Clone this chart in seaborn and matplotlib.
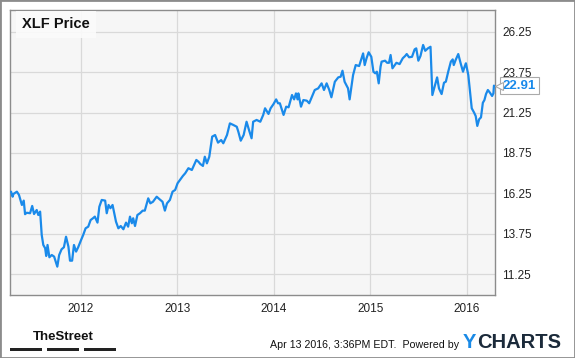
import pandas as pd
import seaborn as sns
import matplotlib
matplotlib.use('Agg')
from matplotlib import pyplot as plt
from matplotlib import transforms
from matplotlib.patches import Rectangle

dates = [
    '2011-04-13', '2011-04-19', '2011-04-22', '2011-05-05', '2011-05-13', '2011-05-24', '2011-05-31',
    '2011-06-05', '2011-06-11', '2011-06-24', '2011-07-02', '2011-07-09', '2011-07-19', '2011-07-25',
    '2011-08-01', '2011-08-07', '2011-08-13', '2011-08-20', '2011-08-24', '2011-08-29', '2011-09-05',
    '2011-09-14', '2011-09-23', '2011-10-05', '2011-10-12', '2011-10-21', '2011-10-30', '2011-11-07',
    '2011-11-16', '2011-11-22', '2011-11-30', '2011-12-07', '2011-12-15', '2011-12-23', '2012-01-02',
    '2012-01-11', '2012-01-20', '2012-01-30', '2012-02-08', '2012-02-17', '2012-02-24', '2012-03-05',
    '2012-03-12', '2012-03-21', '2012-04-03', '2012-04-09', '2012-04-16', '2012-04-23', '2012-05-01',
    '2012-05-14', '2012-05-23', '2012-06-01', '2012-06-11', '2012-06-21', '2012-06-29', '2012-07-06',
    '2012-07-13', '2012-07-18', '2012-07-25', '2012-08-03', '2012-08-13', '2012-08-23', '2012-08-31',
    '2012-09-13', '2012-09-21', '2012-10-01', '2012-10-15', '2012-10-26', '2012-11-06', '2012-11-15',
    '2012-11-23', '2012-12-04', '2012-12-14', '2012-12-24', '2013-01-02', '2013-01-11', '2013-01-22',
    '2013-01-31', '2013-02-12', '2013-02-25', '2013-03-14', '2013-03-22', '2013-03-29', '2013-04-08',
    '2013-04-15', '2013-04-23', '2013-05-02', '2013-05-13', '2013-05-24', '2013-06-04', '2013-06-16',
    '2013-06-24', '2013-07-08', '2013-07-19', '2013-08-01', '2013-08-14', '2013-08-20', '2013-08-29',
    '2013-09-09', '2013-09-20', '2013-09-30', '2013-10-09', '2013-10-15', '2013-10-28', '2013-11-11',
    '2013-11-22', '2013-11-29', '2013-12-12', '2013-12-20', '2013-12-31', '2014-01-10', '2014-01-17',
    '2014-01-24', '2014-02-07', '2014-02-17', '2014-02-26', '2014-03-04', '2014-03-11', '2014-03-19',
    '2014-03-26', '2014-04-01', '2014-04-04', '2014-04-14', '2014-04-23', '2014-05-06', '2014-05-15',
    '2014-06-05', '2014-06-18', '2014-07-01', '2014-07-10', '2014-07-20', '2014-07-30', '2014-08-07',
    '2014-08-20', '2014-09-02', '2014-09-11', '2014-09-18', '2014-09-26', '2014-10-09', '2014-10-15',
    '2014-10-28', '2014-11-07', '2014-11-20', '2014-11-28', '2014-12-05', '2014-12-11', '2014-12-18',
    '2014-12-26', '2015-01-05', '2015-01-13', '2015-01-20', '2015-01-26', '2015-02-02', '2015-02-09',
    '2015-02-13', '2015-02-26', '2015-03-06', '2015-03-13', '2015-03-19', '2015-03-26', '2015-04-10',
    '2015-04-22', '2015-05-04', '2015-05-13', '2015-05-19', '2015-05-28', '2015-06-08', '2015-06-18',
    '2015-06-24', '2015-07-02', '2015-07-10', '2015-07-20', '2015-07-28', '2015-08-07', '2015-08-17',
    '2015-08-24', '2015-09-03', '2015-09-11', '2015-09-18', '2015-09-28', '2015-10-07', '2015-10-14',
    '2015-10-23', '2015-11-02', '2015-11-09', '2015-11-13', '2015-11-20', '2015-11-30', '2015-12-09',
    '2015-12-18', '2015-12-24', '2015-12-29', '2016-01-07', '2016-01-14', '2016-01-20', '2016-01-29',
    '2016-02-04', '2016-02-10', '2016-02-17', '2016-02-24', '2016-03-02', '2016-03-08', '2016-03-14',
    '2016-03-21', '2016-03-29', '2016-04-06', '2016-04-11', '2016-04-13',
]
prices = [
    16.36, 16.05, 16.22, 16.36, 16.16, 15.54, 15.81,
    14.97, 15.06, 15.03, 15.48, 14.98, 15.23, 14.92,
    15.13, 13.69, 13.07, 12.87, 12.39, 13.07, 12.31,
    12.45, 12.35, 11.73, 12.45, 12.80, 12.93, 13.58,
    12.97, 12.10, 12.10, 13.07, 12.66, 12.93, 13.34,
    13.69, 14.10, 14.20, 14.61, 14.72, 14.82, 14.45,
    15.43, 15.85, 15.81, 15.03, 15.54, 15.34, 15.54,
    14.51, 14.10, 14.24, 14.04, 14.45, 14.20, 14.82,
    14.41, 14.72, 14.24, 14.92, 15.03, 15.19, 15.19,
    15.95, 15.64, 15.74, 16.05, 15.89, 15.74, 15.19,
    15.64, 15.85, 16.36, 16.47, 16.88, 17.08, 17.33,
    17.50, 17.81, 17.70, 18.32, 18.21, 18.07, 17.95,
    18.52, 18.11, 18.52, 19.76, 19.86, 19.39, 19.55,
    19.35, 19.86, 20.58, 20.48, 20.37, 20.06, 19.51,
    19.86, 20.68, 20.13, 19.66, 20.68, 20.79, 20.68,
    21.10, 21.51, 21.16, 21.51, 21.77, 22.06, 21.82,
    21.82, 21.10, 21.61, 21.57, 21.92, 22.33, 22.06,
    22.43, 22.06, 22.43, 21.61, 22.02, 21.98, 21.82,
    22.64, 22.74, 23.05, 22.64, 23.05, 22.64, 22.19,
    23.15, 23.42, 23.46, 23.83, 23.15, 22.74, 22.06,
    23.56, 24.18, 24.12, 24.53, 24.90, 24.18, 24.60,
    24.97, 24.69, 23.77, 23.67, 23.77, 23.05, 24.08,
    24.39, 24.45, 24.32, 24.32, 24.80, 23.98, 24.32,
    24.24, 24.60, 24.74, 24.86, 24.66, 24.69, 25.15,
    25.21, 24.45, 24.74, 25.42, 25.06, 25.21, 25.31,
    22.33, 22.95, 23.42, 22.74, 22.39, 23.09, 23.15,
    23.77, 24.39, 24.53, 24.18, 24.49, 24.86, 24.29,
    23.77, 24.08, 24.29, 23.56, 22.43, 21.51, 21.24,
    21.03, 20.42, 20.83, 20.95, 21.85, 22.02, 22.39,
    22.64, 22.47, 22.27, 22.43, 22.91,
]
y_ticks = [11.25, 13.75, 16.25, 18.75, 21.25, 23.75, 26.25]
x_ticks = ['2012-01-01', '2013-01-01', '2014-01-01', '2015-01-01', '2016-01-01']
x_labels = ['2012', '2013', '2014', '2015', '2016']

df = pd.DataFrame({'date': pd.to_datetime(dates), 'price': prices})

sns.set_theme(style='white')
plt.rcParams['font.family'] = ['Liberation Sans', 'DejaVu Sans']

line_blue = '#1a8aea'
grid_grey = '#d9d9d9'
edge_grey = '#8c8c8c'

fig = plt.figure(figsize=(5.75, 3.58), dpi=100)
fig.patch.set_facecolor('white')
ax = fig.add_axes([10 / 575, 1 - 295 / 358, 485 / 575, 285 / 358])
ax.set_facecolor('#f6f6f6')

sns.lineplot(data=df, x='date', y='price', ax=ax, color=line_blue, linewidth=1.6, zorder=3)

ax.set_xlim(pd.Timestamp('2011-04-09'), pd.Timestamp('2016-04-17'))
ax.set_ylim(9.98, 27.58)
ax.set_xticks(pd.to_datetime(x_ticks))
ax.set_xticklabels(x_labels)
ax.set_yticks(y_ticks)
ax.set_yticklabels([f'{v:.2f}' for v in y_ticks])
ax.yaxis.tick_right()
ax.tick_params(axis='both', length=0, labelsize=8.5, colors='#222222')
ax.tick_params(axis='y', pad=5)
ax.tick_params(axis='x', pad=6)
ax.grid(True, color=grid_grey, linewidth=0.9)
ax.set_axisbelow(True)
ax.set_xlabel('')
ax.set_ylabel('')
for s in ax.spines.values():
    s.set_color(edge_grey)
    s.set_linewidth(1)

# title box in the corner
ax.text(0.025, 0.95, 'XLF Price', transform=ax.transAxes, fontsize=10.5, fontweight='bold',
        color='#111111', ha='left', va='center', zorder=5,
        bbox=dict(boxstyle='square,pad=0.45', facecolor='#fbfbfb', edgecolor='none', alpha=0.9))

# last value tag
last = df.iloc[-1]
ax.annotate(f"{last['price']:.2f}", xy=(last['date'], last['price']), xytext=(6.5, 0),
            textcoords='offset points', ha='left', va='center', fontsize=9.5, fontweight='bold',
            color=line_blue, annotation_clip=False, zorder=6,
            bbox=dict(boxstyle='square,pad=0.2', facecolor='white', edgecolor='#aaaaaa', linewidth=0.8))
ax.plot([last['date']], [last['price']], marker='<', markersize=6, markerfacecolor='white',
        markeredgecolor='#aaaaaa', markeredgewidth=0.8, clip_on=False, zorder=7,
        transform=ax.transData + transforms.ScaledTranslation(3.5 / 72, 0, fig.dpi_scale_trans))

# footer
fig.text(63 / 575, 1 - 337 / 358, 'TheStreet', fontsize=9.5, fontweight='bold', ha='center', va='center',
         color='#111111')
for x0 in [10, 47, 84]:
    fig.add_artist(Rectangle((x0 / 575, 1 - 351 / 358), 32 / 575, 3.5 / 358, transform=fig.transFigure,
                             facecolor='#222222', edgecolor='none'))
fig.text(459 / 575, 1 - 345 / 358, 'Apr 13 2016, 3:36PM EDT.  Powered by', fontsize=7.7, ha='right',
         va='center', color='#111111')
fig.text(463 / 575, 1 - 342 / 358, 'Y', fontsize=14.5, fontweight='bold', ha='left', va='center',
         color='#1a8ae6')
fig.text(477 / 575, 1 - 342 / 358, 'CHARTS', fontsize=14.5, fontweight='bold', ha='left', va='center',
         color='#1b2a3a')

fig.add_artist(Rectangle((0, 0), 1, 1, transform=fig.transFigure, facecolor='none',
                         edgecolor=edge_grey, linewidth=2))

fig.savefig('out.png', dpi=100)
